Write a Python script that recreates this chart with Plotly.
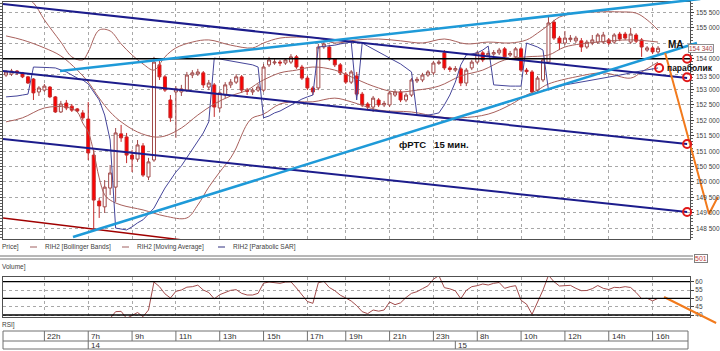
import plotly.graph_objects as go

W, H = 720, 351

# ---------------- data ----------------
bars = list(range(-7, 113))
opens = [153470, 153500, 153600, 153540, 153410, 153340, 152920, 152980, 153080, 152760,
         152270, 152560, 152460, 152370, 152240, 152040, 150870, 149380, 149190, 149800,
         149830, 151560, 151460, 150870, 150740, 151170, 150160, 150710, 153800, 153410,
         152660, 152920, 152920, 152980, 153470, 153500, 153540, 153080, 153150, 152400,
         152820, 153150, 153240, 153410, 152980, 152920, 152980, 152980, 153800, 153860,
         153890, 153860, 153890, 154060, 153730, 153370, 153050, 153050, 154380, 154380,
         153990, 153800, 153500, 153240, 153440, 152850, 152530, 152430, 152660, 152500,
         152500, 152820, 152920, 152660, 152820, 153280, 153310, 153470, 153540, 153850,
         154190, 153700, 153630, 153670, 153210, 153700, 153890, 154190, 154120, 154150,
         154190, 154320, 154120, 154060, 154320, 153630, 153570, 152980, 153310, 153890,
         155190, 154670, 154510, 154620, 154580, 154580, 154380, 154510, 154540, 154540,
         154610, 154540, 154800, 154800, 154540, 154770, 154610, 154280, 154350, 154220]
highs = [153630, 153670, 153630, 153570, 153440, 153370, 153110, 153180, 153110, 152790,
         152630, 152660, 152530, 152400, 152330, 152590, 151040, 149480, 150060, 150550,
         151750, 151850, 151590, 151040, 151360, 151260, 150780, 154060, 153960, 153470,
         152820, 153110, 153150, 153570, 153630, 153670, 153600, 153310, 153210, 152980,
         153240, 153340, 153500, 153470, 153050, 153050, 153180, 153830, 154060, 153990,
         153960, 154020, 154150, 154120, 153800, 153440, 153110, 154480, 154540, 154450,
         154020, 153860, 153570, 153630, 153570, 152920, 152590, 152790, 152720, 152630,
         152950, 152980, 152980, 152890, 153370, 153410, 153540, 153630, 153930, 153960,
         154280, 153760, 153760, 153730, 153700, 153960, 154250, 154250, 154250, 154280,
         154350, 154380, 154250, 154380, 154380, 153700, 153630, 153440, 154020, 155420,
         155260, 154740, 154900, 154770, 154740, 154670, 154610, 154770, 154830, 154870,
         154670, 154830, 154870, 154870, 155000, 154830, 154670, 154410, 154410, 154410]
lows = [153410, 153440, 153470, 153370, 153180, 152660, 152790, 152920, 152720, 152240,
        152240, 152330, 152270, 152270, 152010, 150710, 148500, 148830, 148990, 149570,
        149350, 151300, 150610, 150320, 150650, 150160, 150060, 150650, 153310, 152920,
        151950, 151430, 152790, 152920, 153370, 153440, 153050, 152980, 152110, 152270,
        152720, 153050, 153180, 152890, 152820, 152820, 152920, 152920, 153730, 153800,
        153760, 153800, 153830, 153670, 153310, 152980, 152820, 152980, 154320, 153930,
        153730, 153470, 153180, 153180, 152790, 152430, 152330, 152270, 152430, 152430,
        152430, 152760, 152590, 152590, 152760, 153210, 153240, 153410, 153470, 153800,
        153630, 153570, 153570, 153110, 153110, 153630, 153830, 153890, 154060, 154090,
        154120, 153990, 154060, 153990, 153570, 153500, 152820, 152890, 153240, 153830,
        154610, 154280, 154440, 154540, 154510, 154220, 154320, 154440, 154480, 154480,
        154440, 154480, 154570, 154610, 154480, 154510, 154060, 154220, 154150, 154150]
closes = [153570, 153600, 153540, 153410, 153210, 152890, 153050, 153110, 152760, 152270,
          152530, 152400, 152330, 152300, 152080, 150940, 149410, 149220, 149830, 150290,
          151590, 151430, 150870, 150740, 151200, 150220, 150650, 153890, 153410, 152980,
          152080, 153020, 153020, 153470, 153540, 153570, 153150, 153210, 152430, 152890,
          153150, 153240, 153410, 152980, 152940, 152980, 153080, 153730, 153960, 153890,
          153860, 153960, 154060, 153730, 153370, 153050, 152920, 154380, 154480, 153990,
          153800, 153540, 153240, 153570, 152850, 152500, 152430, 152720, 152500, 152550,
          152890, 152920, 152660, 152820, 153310, 153330, 153470, 153570, 153860, 153890,
          153700, 153650, 153680, 153210, 153630, 153890, 154190, 153960, 154170, 154200,
          154280, 154060, 154170, 154320, 153630, 153580, 152920, 153370, 153960, 155160,
          154670, 154510, 154670, 154670, 154670, 154380, 154540, 154610, 154770, 154770,
          154510, 154770, 154640, 154670, 154800, 154570, 154380, 154350, 154220, 154340]

# Bollinger bands and moving average, read at selected bars
bb_up_bars = [-7, -4, -2, 0, 3, 5, 7, 8, 10, 12, 14, 16, 18, 20, 22, 24, 27, 30, 34, 38, 40, 43,
              47, 50, 53, 57, 61, 65, 69, 73, 77, 81, 85, 88, 90, 92, 94, 97, 101, 105, 108, 110, 112]
bb_upper = [156230, 156040, 155810, 155260, 154540, 154060, 153960, 154220, 154930, 154900,
            154480, 154120, 153830, 153630, 154060, 154350, 154540, 154610, 154440, 154350,
            154510, 154670, 154700, 154670, 154510, 154610, 154640, 154580, 154510, 154640,
            154480, 154540, 154510, 154610, 154830, 155090, 155350, 155480, 155520, 155520,
            155480, 155260, 154930]
bb_lo_bars = [-7, -4, 0, 4, 6, 7, 8, 9, 10, 11, 12, 14, 18, 22, 26, 28, 30, 32, 34, 35, 36, 37,
              38, 40, 43, 46, 49, 53, 56, 61, 67, 72, 76, 81, 85, 88, 90, 92, 97, 102, 107, 109, 112]
bb_lower = [151950, 152080, 152400, 152430, 152270, 151910, 151620, 150970, 150130, 149580,
            149410, 149250, 149090, 148890, 148830, 149250, 149830, 150320, 150780, 151100,
            151520, 151880, 152080, 152200, 152530, 152600, 152600, 152720, 152600, 152330,
            152270, 152110, 152080, 152200, 152500, 152820, 152980, 153180, 153410, 153540,
            153370, 153570, 153890]
ma_bars = [-7, -4, 0, 3, 6, 8, 10, 12, 14, 17, 20, 22, 25, 28, 31, 34, 37, 39, 40, 43, 46, 49,
           53, 56, 60, 64, 68, 72, 76, 80, 84, 88, 92, 95, 101, 107, 112]
ma_vals = [154740, 154610, 154350, 154090, 153630, 153240, 152720, 152270, 151950, 151620,
           151460, 151490, 151750, 152170, 152530, 152790, 152980, 153210, 153310, 153540,
           153630, 153730, 153630, 153410, 153110, 152920, 152980, 153110, 153440, 153630,
           153960, 154060, 154120, 154380, 154540, 154610, 154540]

# Parabolic SAR, one value per bar
sar = [152760, 152770, 152790, 152820, 152850, 153730, 153730, 153730, 153710, 153700,
       153630, 153570, 153470, 153370, 153310, 153180, 152920, 152660, 152170, 151360,
       148500, 148470, 148440, 148540, 148670, 148770, 148960, 149150, 149480, 149800,
       150060, 150320, 150520, 150780, 151040, 151300, 151590, 151950, 154020, 153990,
       153960, 153930, 153890, 153860, 153830, 153800, 153730, 152080, 152140, 152240,
       152300, 152400, 152500, 152600, 152690, 152760, 152820, 154380, 154400, 154410,
       154440, 154480, 154510, 154540, 152660, 154510, 154410, 154320, 154220, 154120,
       154020, 153930, 153830, 153700, 153570, 152170, 152160, 152170, 152200, 152240,
       152500, 152820, 153240, 153800, 154120, 154150, 154190, 154280, 154410, 153150,
       153130, 153110, 153110, 153110, 153110, 154510, 154440, 154380, 154280, 152980,
       153050, 153110, 153150, 153180, 153210, 153240, 153280, 153310, 153340, 153370,
       153410, 153440, 153470, 153500, 153540, 153570, 153600, 153630, 153670, 153700]

# RSI, one value per bar
rsi_bars = list(range(11, 113))
rsi = [34.0, 38.0, 42.0, 42.2, 38.0, 39.7, 41.5, 39.0, 43.0, 59.8,
       57.0, 52.7, 50.2, 54.2, 55.0, 56.7, 57.0, 57.9, 55.0, 53.5,
       49.7, 52.2, 53.7, 54.8, 55.2, 53.0, 52.0, 52.0, 53.0, 59.1,
       59.8, 59.3, 59.0, 59.8, 59.9, 56.2, 52.0, 48.1, 47.0, 59.4,
       60.2, 56.5, 54.6, 51.9, 50.2, 48.4, 45.6, 42.0, 40.8, 43.0,
       42.3, 43.0, 47.8, 46.2, 47.3, 50.5, 53.0, 54.0, 55.8, 57.5,
       61.5, 63.6, 56.4, 55.7, 54.5, 49.8, 54.8, 57.0, 57.6, 58.6,
       58.0, 59.0, 59.5, 56.0, 57.0, 57.6, 48.8, 46.5, 40.4, 47.7,
       55.0, 63.8, 60.0, 57.4, 57.5, 57.8, 56.0, 54.6, 54.7, 55.8,
       57.7, 56.0, 55.3, 56.6, 56.4, 57.0, 56.5, 53.5, 49.8, 50.0,
       48.5, 50.0]

hour_bars = [0, 8, 16, 24, 32, 40, 48, 55, 63, 71, 79, 87, 95, 103, 111]
hour_labels = ["22h", "7h", "9h", "11h", "13h", "15h", "17h", "19h", "21h", "23h",
               "8h", "10h", "12h", "14h", "16h"]
day_bars = [8, 75]
day_labels = ["14", "15"]

price_ticks = [155500, 155000, 154500, 154000, 153500, 153000, 152500, 152000, 151500,
               151000, 150500, 150000, 149500, 149000, 148500]
price_tick_text = ["155 500", "155 000", "", "154 000", "153 500", "153 000", "152 500",
                   "152 000", "151 500", "151 000", "150 500", "150 000", "149 500",
                   "149 000", "148 500"]
rsi_ticks = [40, 45, 50, 55, 60]
rsi_levels = [60, 50, 40]
last_price = closes[-1]

# hand-drawn lines: (bars, prices)
channel_top = ([-7.56, 117.3], [155776, 153373])
channel_mid = ([-7.56, 117.3], [153601, 151230])
channel_low = ([-7.56, 117.3], [151393, 149022])
blue_up = ([2.85, 119.7], [153601, 155938])
blue_low = ([5.22, 119.1], [148211, 154510])
red_support = ([-7.56, 30.0], [148828, 148010])
level_line = ([-7.56, 117.83], [154000, 154000])
arrow_price = ([113.3, 121.3, 122.9], [154185, 148958, 149510])
arrow_rsi = ([113.1, 122.6], [50.8, 35.2])
marker_bars = [117.3, 117.3, 117.3, 117.3, 112.2]
marker_prices = [154000, 153400, 151230, 149020, 153700]

# ---------------- layout geometry ----------------
def fx(px):
    return px / W


def fy(py):
    return 1 - py / H


X_DOM = [fx(3), fx(690)]
X_RNG = [-7.556, 117.83]
Y_DOM = [fy(239), fy(2)]
Y_RNG = [148146, 155841]
Y2_DOM = [fy(317), fy(277)]
Y2_RNG = [38.8, 62.8]


def ext(rng, dom):
    s = (rng[1] - rng[0]) / (dom[1] - dom[0])
    return [rng[0] - dom[0] * s, rng[1] + (1 - dom[1]) * s]


FONT = "Liberation Sans"
BAND = "#a8605c"
NAVY = "#1c1c8c"
LBLUE = "#1e9ad8"
ORANGE = "#f27a1c"
GRID = "#a8a8a8"

fig = go.Figure()

# indicators
fig.add_trace(go.Scatter(x=bb_up_bars, y=bb_upper, mode="lines",
                         line=dict(color=BAND, width=1, shape="spline"), hoverinfo="skip"))
fig.add_trace(go.Scatter(x=bb_lo_bars, y=bb_lower, mode="lines",
                         line=dict(color=BAND, width=1, shape="spline"), hoverinfo="skip"))
fig.add_trace(go.Scatter(x=ma_bars, y=ma_vals, mode="lines",
                         line=dict(color=BAND, width=1, shape="spline"), hoverinfo="skip"))
fig.add_trace(go.Scatter(x=bars, y=sar, mode="lines",
                         line=dict(color="#45459a", width=1), hoverinfo="skip"))

# candles
fig.add_trace(go.Candlestick(
    x=bars, open=opens, high=highs, low=lows, close=closes,
    increasing=dict(line=dict(color="#a04848", width=1), fillcolor="#ffffff"),
    decreasing=dict(line=dict(color="#c42a2a", width=1), fillcolor="#ff0000"),
    whiskerwidth=0, hoverinfo="skip"))

# hand-drawn lines inside the price panel
for (xs, ys), col, wd in [(channel_top, NAVY, 2), (channel_mid, NAVY, 2), (channel_low, NAVY, 2),
                          (red_support, "#a00000", 1.5), (level_line, "#000000", 1.5)]:
    fig.add_trace(go.Scatter(x=xs, y=ys, mode="lines", line=dict(color=col, width=wd),
                             hoverinfo="skip"))

# lines that run past the panel edge: drawn on full-page axes with the same scale
for (xs, ys), col, wd, ya in [(blue_up, LBLUE, 2.5, "y3"), (blue_low, LBLUE, 2.5, "y3"),
                              (arrow_price, ORANGE, 2, "y3"), (arrow_rsi, ORANGE, 2, "y4")]:
    fig.add_trace(go.Scatter(x=xs, y=ys, mode="lines", line=dict(color=col, width=wd),
                             xaxis="x3", yaxis=ya, hoverinfo="skip"))
fig.add_trace(go.Scatter(x=marker_bars, y=marker_prices, mode="markers", xaxis="x3", yaxis="y3",
                         marker=dict(symbol="circle-open", size=8, color="#e01818",
                                     line=dict(width=2, color="#e01818")), hoverinfo="skip"))

# RSI
fig.add_trace(go.Scatter(x=rsi_bars, y=rsi, mode="lines", xaxis="x2", yaxis="y2",
                         line=dict(color="#a24c4c", width=1), hoverinfo="skip"))

shapes = []
annotations = []

# price scale labels (drawn as text at the tick prices; the 153 500 one sits a little lower,
# as in the source, to clear the note beside it)
for p, lab in zip(price_ticks, price_tick_text):
    if lab:
        annotations.append(dict(xref="paper", yref="y", x=fx(694), y=p, xanchor="left",
                                yanchor="middle", yshift=-2.5 if p == 153500 else 0,
                                text=lab, showarrow=False,
                                font=dict(family=FONT, size=6.5, color="#404040")))

# RSI levels
for lv in rsi_levels:
    shapes.append(dict(type="line", xref="paper", yref="y2", x0=X_DOM[0], x1=X_DOM[1], y0=lv, y1=lv,
                       line=dict(color="#000000", width=1.6 if lv == 40 else 1.3)))

# separator between panels
for py in (256, 259):
    shapes.append(dict(type="line", xref="paper", yref="paper", x0=0, x1=fx(693), y0=fy(py), y1=fy(py),
                       line=dict(color="#707070", width=1)))
annotations.append(dict(xref="paper", yref="paper", x=fx(694), y=fy(258), xanchor="left", yanchor="middle",
                        text="501", showarrow=False, font=dict(family=FONT, size=7, color="#c03c3c"),
                        bordercolor="#808080", borderwidth=1, borderpad=0, bgcolor="#ffffff"))

# time axis box
shapes.append(dict(type="rect", xref="paper", yref="paper", x0=fx(3), x1=fx(688), y0=fy(349), y1=fy(331),
                   line=dict(color="#707070", width=1)))
shapes.append(dict(type="line", xref="paper", yref="paper", x0=fx(3), x1=fx(688), y0=fy(341), y1=fy(341),
                   line=dict(color="#707070", width=1)))
for b, lab in zip(hour_bars, hour_labels):
    shapes.append(dict(type="line", xref="x", yref="paper", x0=b, x1=b, y0=fy(341), y1=fy(331),
                       line=dict(color="#707070", width=1)))
    annotations.append(dict(xref="x", yref="paper", x=b, y=fy(336), xanchor="left", yanchor="middle",
                            xshift=1, text=lab, showarrow=False,
                            font=dict(family=FONT, size=8, color="#303030")))
for b, lab in zip(day_bars, day_labels):
    shapes.append(dict(type="line", xref="x", yref="paper", x0=b, x1=b, y0=fy(349), y1=fy(341),
                       line=dict(color="#707070", width=1)))
    annotations.append(dict(xref="x", yref="paper", x=b, y=fy(345), xanchor="left", yanchor="middle",
                            xshift=1, text=lab, showarrow=False,
                            font=dict(family=FONT, size=8, color="#303030")))

# legend row
annotations.append(dict(xref="paper", yref="paper", x=0, y=fy(247), xanchor="left", yanchor="middle",
                        text="Price]", showarrow=False, font=dict(family=FONT, size=6.5, color="#404040")))
for x0, col, lab in [(30, "#a06060", "RIH2 [Bollinger Bands]"),
                     (122, "#a06060", "RIH2 [Moving Average]"),
                     (218, "#303080", "RIH2 [Parabolic SAR]")]:
    shapes.append(dict(type="line", xref="paper", yref="paper", x0=fx(x0), x1=fx(x0 + 7),
                       y0=fy(247), y1=fy(247), line=dict(color=col, width=1)))
    annotations.append(dict(xref="paper", yref="paper", x=fx(x0 + 13), y=fy(247), xanchor="left",
                            yanchor="middle", text=lab, showarrow=False,
                            font=dict(family=FONT, size=6.5, color="#404040")))
annotations.append(dict(xref="paper", yref="paper", x=0, y=fy(267), xanchor="left", yanchor="middle",
                        text="Volume]", showarrow=False, font=dict(family=FONT, size=6.5, color="#404040")))
annotations.append(dict(xref="paper", yref="paper", x=0, y=fy(325), xanchor="left", yanchor="middle",
                        text="RSI]", showarrow=False, font=dict(family=FONT, size=6.5, color="#404040")))

# current price box
annotations.append(dict(xref="paper", yref="y", x=fx(688), y=last_price, xanchor="left", yanchor="middle",
                        text="154 340", showarrow=False, font=dict(family=FONT, size=6.5, color="#a84040"),
                        bordercolor="#909090", borderwidth=1, borderpad=0, bgcolor="#ffffff"))

# chart notes
annotations.append(dict(xref="paper", yref="paper", x=fx(666), y=fy(44), xanchor="left", yanchor="middle",
                        text="<b>MA</b>", showarrow=False, font=dict(family=FONT, size=10, color="#101010")))
annotations.append(dict(xref="paper", yref="paper", x=fx(665), y=fy(67.5), xanchor="left", yanchor="middle",
                        text="<b>параболик</b>", showarrow=False,
                        font=dict(family=FONT, size=8.5, color="#101010")))
annotations.append(dict(xref="paper", yref="paper", x=fx(397), y=fy(145), xanchor="left", yanchor="middle",
                        text="<b>фРТС\u00a0\u00a0\u00a015 мин.</b>", showarrow=False,
                        font=dict(family=FONT, size=9.5, color="#101010")))

axis_common = dict(zeroline=False, showline=True, linecolor="#505050", linewidth=1)

fig.update_layout(
    width=W, height=H, margin=dict(l=0, r=0, t=0, b=0),
    paper_bgcolor="#ffffff", plot_bgcolor="rgba(0,0,0,0)", showlegend=False,
    boxgap=0.22,
    shapes=shapes, annotations=annotations,
    xaxis=dict(domain=X_DOM, range=X_RNG, anchor="y", tickmode="array", tickvals=hour_bars,
               showticklabels=False, ticks="", showgrid=True, gridcolor=GRID, griddash="dot",
               gridwidth=1, mirror=True, rangeslider=dict(visible=False), **axis_common),
    yaxis=dict(domain=Y_DOM, range=Y_RNG, anchor="x", side="right", tickmode="array",
               tickvals=price_ticks, showticklabels=False, ticks="outside", ticklen=3,
               tickcolor="#404040", showgrid=True, gridcolor=GRID, griddash="dot", gridwidth=1,
               mirror="ticks",
               minor=dict(tickmode="linear", tick0=0, dtick=100, ticks="outside", ticklen=2,
                          tickcolor="#606060", showgrid=False),
               **axis_common),
    xaxis2=dict(domain=X_DOM, range=X_RNG, anchor="y2", matches="x", tickmode="array",
                tickvals=hour_bars, showticklabels=False, ticks="", showgrid=True, gridcolor=GRID,
                griddash="dot", gridwidth=1, mirror=True, **axis_common),
    yaxis2=dict(domain=Y2_DOM, range=Y2_RNG, anchor="x2", side="right", tickmode="array",
                tickvals=rsi_ticks, ticks="outside", ticklen=3, tickcolor="#404040",
                showgrid=True, gridcolor=GRID, griddash="dot", gridwidth=1,
                tickfont=dict(family=FONT, size=6.5, color="#404040"), mirror=True, **axis_common),
    xaxis3=dict(domain=[0, 1], range=ext(X_RNG, X_DOM), anchor="y3", visible=False),
    yaxis3=dict(domain=[0, 1], range=ext(Y_RNG, Y_DOM), anchor="x3", visible=False),
    yaxis4=dict(domain=[0, 1], range=ext(Y2_RNG, Y2_DOM), anchor="x3", visible=False,
                overlaying="y3"),
)

fig.write_html("out.html")
